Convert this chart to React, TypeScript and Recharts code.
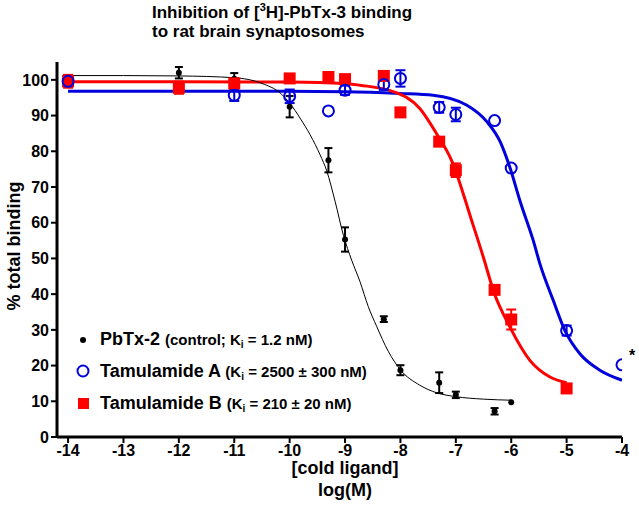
import React from "react";
import {
	ComposedChart,
	Line,
	Scatter,
	XAxis,
	YAxis,
	ErrorBar,
} from "recharts";

// measured points: log concentration, % bound, SEM
const pbtxLogC = [-14, -12, -11, -10, -9.3, -9, -8.3, -8, -7.3, -7, -6.3, -6];
const pbtxMean = [99.6, 102, 100.3, 92.5, 77.5, 55.3, 33, 18.7, 15.2, 11.8, 7.2, 9.7];
const pbtxSem = [0, 1.6, 1.6, 3, 3.4, 3.4, 0.8, 1.4, 2.9, 0.9, 0.9, 0];

const tamALogC = [-14, -11, -10, -9.3, -9, -8.3, -8, -7.3, -7, -6.3, -6, -5, -4];
const tamAMean = [99.6, 95.7, 95.4, 91.3, 97.1, 98.7, 100.4, 92.3, 90.3, 88.6, 75.3, 29.8, 20.2];
const tamASem = [1, 1.6, 1.9, 0, 1.3, 1.5, 2.3, 1.5, 1.9, 0, 0, 1.4, 0];

const tamBLogC = [-14, -12, -11, -10, -9.3, -9, -8.3, -8, -7.3, -7, -6.3, -6, -5];
const tamBMean = [99.6, 97.8, 99, 100.4, 100.8, 100.2, 101.1, 90.9, 82.7, 74.7, 41.2, 32.9, 13.6];
const tamBSem = [1.8, 1.7, 1.4, 0, 0, 0, 0, 0, 0, 1.9, 0, 2.8, 0];

// fitted curves
const pbtxFitX = [-14.1, -13, -12, -11, -10.5, -10.17, -10, -9.8, -9.63, -9.45, -9.33, -9.18, -9.03, -8.88, -8.73, -8.58, -8.43, -8.22, -8.01, -7.65, -7.35, -7, -6.5, -6];
const pbtxFitY = [101.2, 101.2, 101.1, 100.6, 99, 96.3, 93.5, 89, 84.6, 79, 74.5, 66, 56.5, 49.5, 43.5, 36.5, 31, 24, 19, 14.5, 12.4, 11.3, 10.6, 10.3];

const tamAFitX = [-14, -10, -9, -8.01, -7.41, -6.8, -6.44, -6.2, -6.02, -5.84, -5.6, -5.48, -5.24, -5.03, -4.76, -4.4, -4];
const tamAFitY = [96.8, 96.8, 96.7, 96.2, 95.7, 92.9, 88.3, 82.7, 75.3, 66, 54.9, 48.4, 38.2, 29.8, 23.3, 18.7, 15.9];

const tamBFitX = [-14, -12, -10, -9, -8.73, -8.13, -7.65, -7.35, -7.07, -6.71, -6.5, -6.32, -6.02, -5.66, -5.3, -5];
const tamBFitY = [99.5, 99.5, 99.4, 99, 98.5, 96.7, 92, 85, 77.2, 60.4, 50.2, 40.9, 30.7, 21.4, 16.8, 15.2];

const xTicks = [-14, -13, -12, -11, -10, -9, -8, -7, -6, -5, -4];
const yTicks = [0, 10, 20, 30, 40, 50, 60, 70, 80, 90, 100];

const pts = (xs: number[], ys: number[], es: number[]) =>
	xs.map((x, i) => ({ x, y: ys[i], err: es[i] || undefined }));
const curve = (xs: number[], ys: number[]) => xs.map((x, i) => ({ x, y: ys[i] }));

const pbtxPts = pts(pbtxLogC, pbtxMean, pbtxSem);
const tamAPts = pts(tamALogC, tamAMean, tamASem);
const tamBPts = pts(tamBLogC, tamBMean, tamBSem);

const FONT = "'Liberation Sans', Arial, sans-serif";
const RED = "#ff0000";
const BLUE = "#0000dd";

const DotShape = (p: any) => <circle cx={p.cx} cy={p.cy} r={3} fill="#000" />;
const SquareShape = (p: any) => <rect x={p.cx - 6} y={p.cy - 6} width={12} height={12} fill={RED} />;
const CircleShape = (p: any) => (
	<circle cx={p.cx} cy={p.cy} r={5.5} fill="none" stroke={BLUE} strokeWidth={2} />
);

const tickStyle = { fill: "#000", fontSize: 16, fontWeight: "bold", fontFamily: FONT };

export default function App() {
	return (
		<div style={{ position: "absolute", left: 0, top: 0, width: 639, height: 514, background: "#fff" }}>
			<ComposedChart width={639} height={514} margin={{ top: 62, right: 17, bottom: 0, left: 0 }}>
				<XAxis
					type="number"
					dataKey="x"
					domain={[-14.2, -4]}
					ticks={xTicks}
					allowDataOverflow
					height={77}
					axisLine={{ stroke: "#000", strokeWidth: 3 }}
					tickLine={{ stroke: "#000", strokeWidth: 2 }}
					tickSize={6}
					tick={tickStyle}
					interval={0}
				/>
				<YAxis
					type="number"
					domain={[0, 105]}
					ticks={yTicks}
					width={57}
					axisLine={{ stroke: "#000", strokeWidth: 3 }}
					tickLine={{ stroke: "#000", strokeWidth: 2 }}
					tickSize={6}
					tick={tickStyle}
					interval={0}
				/>
				<Line data={curve(tamAFitX, tamAFitY)} dataKey="y" type="monotone" stroke={BLUE} strokeWidth={3} dot={false} activeDot={false} isAnimationActive={false} />
				<Line data={curve(tamBFitX, tamBFitY)} dataKey="y" type="monotone" stroke={RED} strokeWidth={3} dot={false} activeDot={false} isAnimationActive={false} />
				<Line data={curve(pbtxFitX, pbtxFitY)} dataKey="y" type="monotone" stroke="#000" strokeWidth={1} dot={false} activeDot={false} isAnimationActive={false} />
				<Scatter data={pbtxPts} dataKey="y" shape={DotShape} isAnimationActive={false}>
					<ErrorBar dataKey="err" direction="y" width={4} stroke="#000" strokeWidth={2} />
				</Scatter>
				<Scatter data={tamBPts} dataKey="y" shape={SquareShape} isAnimationActive={false}>
					<ErrorBar dataKey="err" direction="y" width={5} stroke={RED} strokeWidth={2} />
				</Scatter>
				<Scatter data={tamAPts} dataKey="y" shape={CircleShape} isAnimationActive={false}>
					<ErrorBar dataKey="err" direction="y" width={5} stroke={BLUE} strokeWidth={2} />
				</Scatter>
			</ComposedChart>
			<svg
				width={639}
				height={514}
				style={{ position: "absolute", left: 0, top: 0, pointerEvents: "none" }}
				fontFamily={FONT}
				fontWeight="bold"
			>
				<text x={152} y={18} fontSize={17}>
					Inhibition of [<tspan fontSize={11} dy={-7}>3</tspan>
					<tspan dy={7}>H]-PbTx-3 binding</tspan>
				</text>
				<text x={152} y={37} fontSize={17}>to rat brain synaptosomes</text>
				<text x={0} y={0} fontSize={18} textAnchor="middle" transform="translate(20 246) rotate(-90)">
					% total binding
				</text>
				<text x={345} y={474} fontSize={18} textAnchor="middle">[cold ligand]</text>
				<text x={345} y={496} fontSize={18} textAnchor="middle">log(M)</text>
				<text x={629} y={361} fontSize={16}>*</text>

				<circle cx={83} cy={340} r={3} fill="#000" />
				<text x={100} y={345}>
					<tspan fontSize={18}>PbTx-2 </tspan>
					<tspan fontSize={15}>(control; K</tspan>
					<tspan fontSize={10} dy={3}>i</tspan>
					<tspan fontSize={15} dy={-3}> = 1.2 nM)</tspan>
				</text>
				<circle cx={83} cy={371} r={5.5} fill="none" stroke={BLUE} strokeWidth={2} />
				<text x={100} y={377}>
					<tspan fontSize={18}>Tamulamide A </tspan>
					<tspan fontSize={15}>(K</tspan>
					<tspan fontSize={10} dy={3}>i</tspan>
					<tspan fontSize={15} dy={-3}> = 2500 ± 300 nM)</tspan>
				</text>
				<rect x={78} y={398} width={11} height={11} fill={RED} />
				<text x={100} y={409}>
					<tspan fontSize={18}>Tamulamide B </tspan>
					<tspan fontSize={15}>(K</tspan>
					<tspan fontSize={10} dy={3}>i</tspan>
					<tspan fontSize={15} dy={-3}> = 210 ± 20 nM)</tspan>
				</text>
			</svg>
		</div>
	);
}
